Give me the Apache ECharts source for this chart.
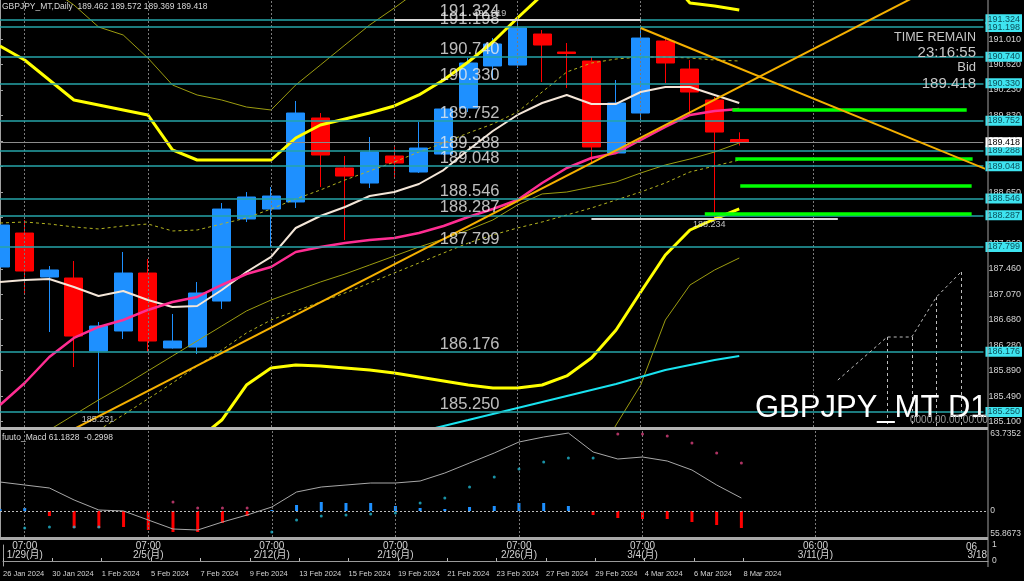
<!DOCTYPE html>
<html><head><meta charset="utf-8">
<script src="https://cdn.jsdelivr.net/npm/echarts@6/dist/echarts.min.js"></script>
<style>html,body{margin:0;padding:0;background:#000;}#c{width:1024px;height:581px;}</style>
</head><body><div id="c"></div>
<script>
// ---------- DATA ----------
// daily candles, index 0 = 26 Jan 2024 ... 30 = 8 Mar 2024 : [open, close, low, high]
const candles = [
 [187.491,188.140,187.367,188.217],[188.016,187.429,187.089,188.217],[187.336,187.445,186.486,187.506],
 [187.321,186.424,185.945,187.584],[186.193,186.579,185.231,186.641],[186.502,187.398,186.378,187.723],
 [187.398,186.347,186.177,187.615],[186.239,186.347,186.230,186.765],[186.254,187.089,186.146,187.259],
 [186.965,188.387,186.842,188.480],[188.233,188.573,188.186,188.650],[188.387,188.588,187.800,188.727],
 [188.496,189.871,188.403,190.057],[189.794,189.222,188.727,189.871],[189.021,188.897,187.908,189.207],
 [188.789,189.268,188.712,189.500],[189.207,189.098,188.882,189.377],[188.959,189.330,188.944,189.732],
 [189.237,189.933,189.222,189.964],[189.948,190.644,189.887,190.721],[190.598,190.938,190.381,191.030],
 [190.613,191.185,190.567,191.319],[191.092,190.922,190.350,191.154],[190.814,190.791,190.258,190.953],
 [190.675,189.346,189.098,190.737],[189.253,190.026,189.237,190.381],[189.871,191.030,189.763,191.185],
 [190.984,190.644,190.335,191.030],[190.551,190.196,189.840,190.690],[190.072,189.577,188.234,190.118],
 [189.462,189.418,189.369,189.572]
];
const maWhite = [187.259,187.290,187.306,187.182,187.043,187.120,186.981,186.873,186.888,187.136,187.414,187.646,188.094,188.279,188.419,188.589,188.650,188.774,188.990,189.300,189.593,189.841,190.026,190.150,190.011,190.011,190.196,190.273,190.273,190.150,190.026];
const maPink = [185.358,185.698,186.100,186.394,186.564,186.672,186.827,186.950,187.028,187.213,187.383,187.491,187.723,187.800,187.862,187.909,187.940,188.017,188.125,188.264,188.388,188.527,188.790,189.021,189.176,189.253,189.454,189.655,189.841,189.902,189.933];
const maCyan = [null,null,null,null,null,null,null,null,null,null,null,null,null,null,null,184.740,184.848,184.941,185.034,185.126,185.219,185.312,185.405,185.497,185.590,185.683,185.791,185.899,185.977,186.054,186.116];
const bandUpper = [190.907,190.691,190.382,190.072,189.995,189.918,189.841,189.300,189.145,189.145,189.145,189.145,189.485,189.686,189.779,189.872,189.980,190.150,190.382,190.660,190.969,191.340,191.695,191.927,192.159,192.236,192.159,192.004,191.572,191.525,191.463];
const bandLower = [183.581,183.735,183.890,184.045,184.199,184.354,184.508,184.663,184.817,185.126,185.667,185.930,185.977,185.961,185.930,185.899,185.853,185.791,185.729,185.667,185.621,185.621,185.667,185.807,186.085,186.518,187.105,187.677,188.063,188.233,188.388];
const thinUpper = [null,192.236,191.803,191.541,191.201,191.077,190.722,190.304,190.150,190.072,189.964,189.918,190.304,190.613,190.923,191.232,191.494,191.773,null,null,null,null,null,null,null,null,null,null,null,null,null];
const thinLower = [184.663,184.817,184.972,185.204,185.436,185.652,185.884,186.116,186.348,186.579,186.811,186.981,187.120,187.259,187.383,187.522,187.661,187.800,187.924,188.063,188.218,188.450,188.620,188.650,188.728,188.805,188.944,189.068,189.160,189.269,189.408];
const dashMid = [188.171,188.187,188.156,188.110,188.079,188.125,188.156,188.048,188.063,188.156,188.249,188.388,188.542,188.681,188.836,188.975,189.114,189.269,189.408,189.562,189.702,189.887,190.196,190.505,190.644,190.706,190.737,190.737,190.722,190.691,190.675];
const dashLower = [null,null,null,null,184.972,185.204,185.451,185.698,185.961,186.208,186.471,186.672,186.811,186.950,187.089,187.244,187.399,187.553,187.708,187.862,187.986,188.094,188.187,188.295,188.403,188.527,188.650,188.790,188.960,189.052,189.145];
const thinLower3 = [null,null,null,null,null,null,null,null,null,null,null,null,null,null,null,null,null,null,null,null,null,null,null,null,184.354,185.049,185.667,186.672,187.213,187.445,187.630];
const trendUp = [[0,184.40],[40,192.23]];
const trendDown = [[26,191.185],[40,189.005]];
const levels = [191.324,191.198,190.740,190.330,189.752,189.288,189.048,188.546,188.287,187.799,186.176,185.250];
const bid = 189.418;
const greenLevels = [[29.72,39.23,189.918],[29.84,39.47,189.160],[30.04,39.43,188.743],[28.6,39.43,188.310]];
const extremes = [[-1,7,185.231,4],[16,26,191.319,19.9],[24,34,188.234,28.8]]; // from, to, price, label bar
const projPath = [[34,185.744],[36,186.409],[37,186.409],[38,187.027],[39,187.414]];
const priceTicks = [191.010,190.620,190.230,189.830,189.440,189.050,188.650,188.260,187.860,187.460,187.070,186.680,186.280,185.890,185.490,185.100];
const weekTicks = [1,6,11,16,21,26,33];
const weekLabels = ['07:00\n1/29(月)','07:00\n2/5(月)','07:00\n2/12(月)','07:00\n2/19(月)','07:00\n2/26(月)','07:00\n3/4(月)','06:00\n3/11(月)'];
const dateTicks = [0,2,4,6,8,10,12,14,16,18,20,22,24,26,28,30];
const dateLabels = ['26 Jan 2024','30 Jan 2024','1 Feb 2024','5 Feb 2024','7 Feb 2024','9 Feb 2024','13 Feb 2024','15 Feb 2024','19 Feb 2024','21 Feb 2024','23 Feb 2024','27 Feb 2024','29 Feb 2024','4 Mar 2024','6 Mar 2024','8 Mar 2024'];
const macdLine = [29,26,23,11,1,0,-9,-18,-19,-11,-4,4,19,24,26,28,28,30,38,48,58,69,74,78,59,52,54,50,41,26,13];
const macdHist = [2,3,-5,-17,-17,-16,-19,-21,-21,-12,-5,1,6,9,8,8,5,3,2,4,5,8,8,5,-4,-7,-8,-8,-11,-14,-17];
const sigCyan = [null,-17,-16,-16,-16,null,null,null,null,null,null,-21,-9,-5,-4,-3,-2,8,13,24,34,42,49,53,53,null,null,null,null,null,null];
const sigPink = [null,null,null,null,null,null,null,9,3,3,3,null,null,null,null,null,null,null,null,null,null,null,null,null,null,77,77,75,68,58,48];
const macdAxisLabels = [[77,'63.7352'],[0,'0'],[-23,'55.8673']];

// ---------- CHART ----------
const FONT = '"Liberation Sans", Arial, "Noto Sans CJK JP", sans-serif';
const XMAX = 39.91, LABEL_X = 17.87;
const pts = a => a.map((v,i)=>[i, v]);
const chart = echarts.init(document.getElementById('c'), null, {renderer:'canvas'});
function ln(data, color, width, type, z){
  return {type:'line', xAxisIndex:0, yAxisIndex:0, data:pts(data), symbol:'none', z:z||4, silent:true,
    lineStyle:{color, width, type:type||'solid'}, connectNulls:false};
}
const markText = (x,y,txt,extra)=>({type:'scatter', xAxisIndex:0, yAxisIndex:0, data:[[x,y]], symbolSize:1, itemStyle:{color:'rgba(0,0,0,0)'}, z:10, silent:true,
  label:Object.assign({show:true, formatter:txt, color:'#e8e8e8', fontFamily:FONT}, extra)});

const levelMarks = levels.map(v=>({yAxis:v, lineStyle:{color:'#26a4a8', width:1.5, type:'solid'},
  label:{show:true, position:'end', distance:2, formatter:v.toFixed(3), backgroundColor:'#3ee4f0', color:'#0b4f5a', fontSize:9, padding:[1,2,0,2], fontFamily:FONT}}));
levelMarks.push({yAxis:bid, lineStyle:{color:'#8c8c8c', width:1, type:'solid'},
  label:{show:true, position:'end', distance:2, formatter:bid.toFixed(3), backgroundColor:'#ffffff', color:'#000', fontSize:9, padding:[1,2,0,2], fontFamily:FONT}});
const segMarks = greenLevels.map(g=>[{coord:[g[0],g[2]], lineStyle:{color:'#00ff00', width:3.5, type:'solid'}, label:{show:false}},{coord:[g[1],g[2]]}])
  .concat(extremes.map(e=>[{coord:[e[0],e[2]], lineStyle:{color:'#d8d8d8', width:2, type:'solid'}, label:{show:false}},{coord:[e[1],e[2]]}]));
const weekMarks = weekTicks.map(x=>({xAxis:x, lineStyle:{color:'#7a7a7a', width:1, type:[2,2]}, label:{show:false}}));

const series = [
  {type:'line', xAxisIndex:0, yAxisIndex:0, data:[], z:1, silent:true,
    markLine:{symbol:['none','none'], silent:true, animation:false, data:weekMarks}},
  {type:'candlestick', xAxisIndex:0, yAxisIndex:0, data:candles.map((c,i)=>[i].concat(c)), barWidth:18.5, z:3,
    itemStyle:{color:'#1e90ff', color0:'#ff0000', borderColor:'#1e90ff', borderColor0:'#ff0000', borderWidth:1}},
  ln(thinUpper,'#9c9c10',1),
  ln(thinLower,'#9c9c10',1),
  ln(thinLower3,'#9c9c10',1),
  ln(dashMid,'#b4b420',1,[3,3]),
  ln(dashLower,'#b4b420',1,[3,3]),
  ln(bandUpper,'#ffff00',3),
  ln(bandLower,'#ffff00',3),
  ln(maCyan,'#19e3f0',2),
  ln(maWhite,'#f4e6d8',2),
  ln(maPink,'#ff2d92',2.5),
  {type:'line', xAxisIndex:0, yAxisIndex:0, data:trendUp, symbol:'none', z:5, silent:true, lineStyle:{color:'#f5b000', width:2}},
  {type:'line', xAxisIndex:0, yAxisIndex:0, data:trendDown, symbol:'none', z:5, silent:true, lineStyle:{color:'#f5b000', width:2}},
  {type:'line', xAxisIndex:0, yAxisIndex:0, data:projPath, symbol:'none', z:5, silent:true, lineStyle:{color:'#bdbdbd', width:1, type:[3,3]},
    markLine:{symbol:['none','none'], silent:true, animation:false, label:{show:false},
      data:projPath.slice(1).map(p=>[{coord:[p[0],p[1]], lineStyle:{color:'#bdbdbd', width:1, type:[3,3]}},{coord:[p[0],185.02]}])}},
  {type:'line', xAxisIndex:0, yAxisIndex:0, data:[], z:6, silent:true,
    markLine:{symbol:['none','none'], silent:true, animation:false, lineStyle:{type:'solid'}, data:levelMarks.concat(segMarks)}},
  {type:'scatter', xAxisIndex:0, yAxisIndex:0, data:levels.map(v=>[LABEL_X,v]), symbolSize:1, itemStyle:{color:'rgba(0,0,0,0)'}, z:10, silent:true,
    label:{show:true, formatter:p=>p.value[1].toFixed(3), position:[0,1], align:'left', verticalAlign:'bottom', color:'#ececec', fontSize:16.5, fontFamily:FONT}},
  markText(extremes[0][3], extremes[0][2], extremes[0][2].toFixed(3), {position:[0,2], align:'center', verticalAlign:'top', fontSize:9}),
  markText(extremes[1][3], extremes[1][2], extremes[1][2].toFixed(3), {position:[0,-1], align:'center', verticalAlign:'bottom', fontSize:9}),
  markText(extremes[2][3], extremes[2][2], extremes[2][2].toFixed(3), {position:[0,2], align:'center', verticalAlign:'top', fontSize:9}),
  // MACD pane
  {type:'bar', xAxisIndex:1, yAxisIndex:1, barWidth:3, z:3, silent:true,
    data:macdHist.map((v,i)=>({value:[i,v], itemStyle:{color: v>=0?'#1e90ff':'#ff0000'}})),
    markLine:{symbol:['none','none'], silent:true, animation:false, label:{show:false},
      data:[{yAxis:0, lineStyle:{color:'#bcbcbc', width:1, type:[2,2]}}].concat(weekMarks)}},
  {type:'line', xAxisIndex:1, yAxisIndex:1, data:pts(macdLine), symbol:'none', z:4, silent:true, lineStyle:{color:'#a8a8a8', width:1}},
  {type:'scatter', xAxisIndex:1, yAxisIndex:1, data:pts(sigCyan).filter(p=>p[1]!==null), symbolSize:3, z:5, silent:true, itemStyle:{color:'#21b6cf'}},
  {type:'scatter', xAxisIndex:1, yAxisIndex:1, data:pts(sigPink).filter(p=>p[1]!==null), symbolSize:3, z:5, silent:true, itemStyle:{color:'#d8407c'}}
];

const txt = (x,y,text,size,color,align,extra)=>({type:'text', x, y, z:100, silent:true,
  style:Object.assign({text, fontSize:size, fill:color||'#d8d8d8', fontFamily:FONT, textAlign:align||'left', textVerticalAlign:'top'}, extra||{})});
const rect = (x,y,w,h,c)=>({type:'rect', shape:{x,y,width:w,height:h}, style:{fill:c}, z:50, silent:true});
const last = candles[candles.length-1];

const option = {
  backgroundColor:'#000', animation:false,
  grid:[{left:-2.6, right:36, top:0, height:427},{left:-2.6, right:36, top:430, height:107},{left:-2.6, right:36, top:545, height:21}],
  xAxis:[
    {gridIndex:0, type:'value', min:0, max:XMAX, show:false},
    {gridIndex:1, type:'value', min:0, max:XMAX, axisLine:{show:false}, axisTick:{show:false}, splitLine:{show:false},
      axisLabel:{customValues:weekTicks, formatter:v=>weekLabels[weekTicks.indexOf(v)], color:'#d4d4d4', fontSize:10, lineHeight:8.5, margin:5, fontFamily:FONT}},
    {gridIndex:2, type:'value', min:0, max:XMAX, splitLine:{show:false},
      axisLine:{show:true, lineStyle:{color:'#9a9a9a', width:1}},
      axisTick:{show:true, inside:true, length:3, customValues:dateTicks, lineStyle:{color:'#bbbbbb'}},
      axisLabel:{customValues:dateTicks, formatter:v=>dateLabels[dateTicks.indexOf(v)], align:'left', color:'#d4d4d4', fontSize:7.5, margin:4, fontFamily:FONT}}
  ],
  yAxis:[
    {gridIndex:0, type:'value', position:'right', min:185.018, max:191.618, splitLine:{show:false},
      axisLine:{show:true, lineStyle:{color:'#a0a0a0'}}, axisTick:{show:true, length:3, customValues:priceTicks, lineStyle:{color:'#a0a0a0'}},
      axisLabel:{customValues:priceTicks, formatter:v=>v.toFixed(3), color:'#d4d4d4', fontSize:9, margin:5, fontFamily:FONT}},
    {gridIndex:1, type:'value', position:'right', min:-26, max:81, splitLine:{show:false},
      axisLine:{show:true, lineStyle:{color:'#a0a0a0'}}, axisTick:{show:false},
      axisLabel:{customValues:macdAxisLabels.map(a=>a[0]), formatter:v=>macdAxisLabels.find(a=>a[0]===v)[1], color:'#d4d4d4', fontSize:8.5, margin:4, fontFamily:FONT}},
    {gridIndex:2, type:'value', position:'right', min:-0.31, max:1, splitLine:{show:false},
      axisLine:{show:true, lineStyle:{color:'#a0a0a0'}}, axisTick:{show:false},
      axisLabel:{customValues:[0,1], color:'#d4d4d4', fontSize:8.5, margin:4, fontFamily:FONT}}
  ],
  series,
  graphic:[
    rect(0,427,988,3,'#b4b4b4'),
    rect(0,537,988,3,'#a8a8a8'),
    rect(987.5,0,1,567,'#a0a0a0'),
    txt(2,2,'GBPJPY_MT,Daily  '+last[0].toFixed(3)+' '+last[3].toFixed(3)+' '+last[2].toFixed(3)+' '+last[1].toFixed(3),8.5,'#d8d8d8'),
    txt(2,433,'fuuto_Macd 61.1828  -0.2998',8.5,'#d8d8d8'),
    txt(976,31,'TIME REMAIN',12.5,'#c8c8c8','right'),
    txt(976,45,'23:16:55',15,'#c8c8c8','right'),
    txt(976,61,'Bid',13,'#c8c8c8','right'),
    txt(976,76,bid.toFixed(3),15,'#c8c8c8','right'),
    txt(755,393,'GBPJPY_MT D1',31,'#ffffff','left'),
    txt(910,415,'0000.00.00 00:00',10,'#9c9c9c','left'),
    txt(977,542,'06',10,'#d4d4d4','right'),
    txt(987,550,'3/18',10,'#d4d4d4','right')
  ]
};
chart.setOption(option);
</script></body></html>
